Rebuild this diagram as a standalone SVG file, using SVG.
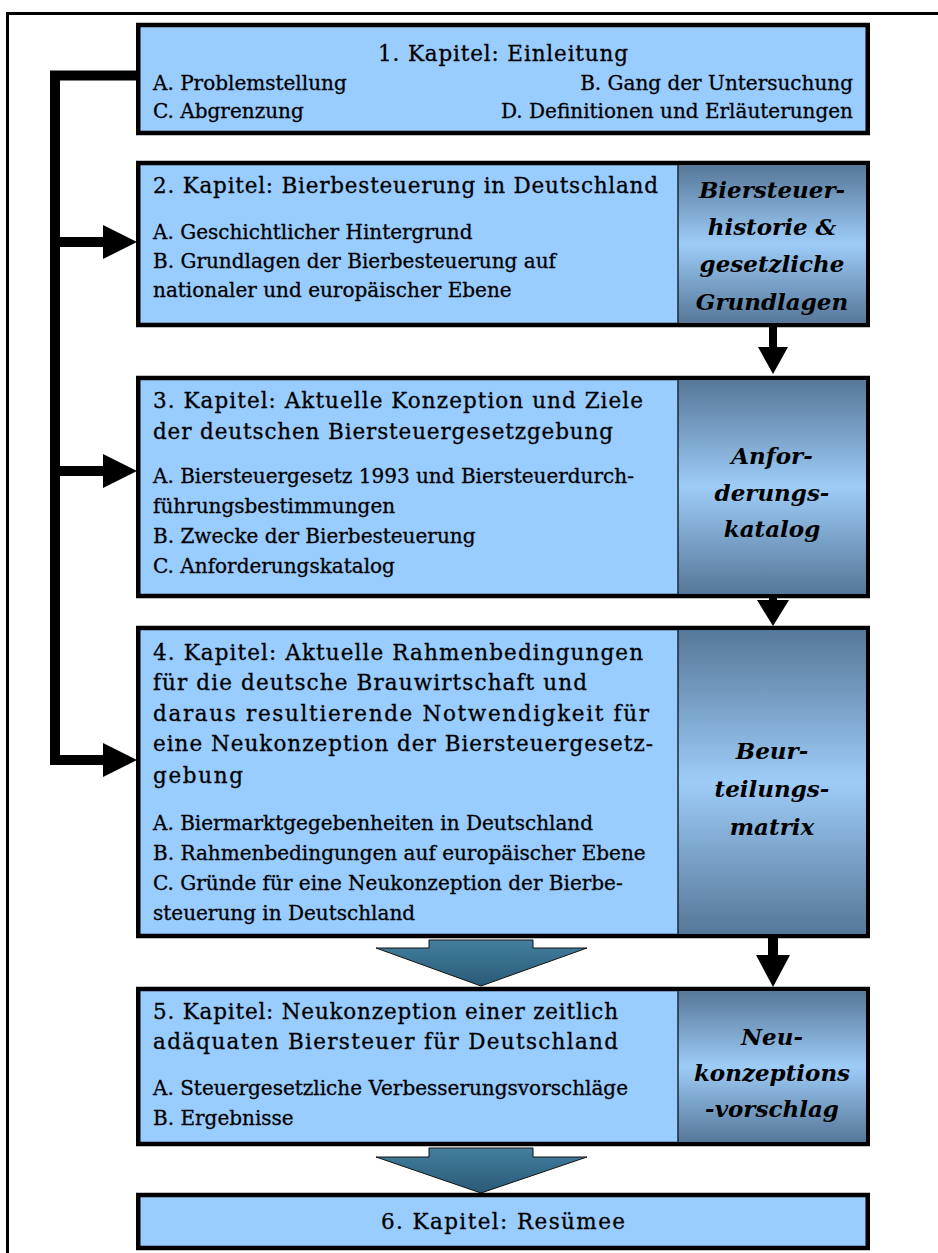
<svg xmlns="http://www.w3.org/2000/svg" width="938" height="1253" viewBox="0 0 938 1253">
  <defs>
    <linearGradient id="panelGrad" x1="0" y1="0" x2="0" y2="1">
      <stop offset="0" stop-color="#567799"/>
      <stop offset="0.5" stop-color="#9dccf7"/>
      <stop offset="1" stop-color="#567799"/>
    </linearGradient>
    <linearGradient id="flowGrad" x1="0" y1="0" x2="0" y2="1">
      <stop offset="0" stop-color="#437f9f"/>
      <stop offset="1" stop-color="#2a5a77"/>
    </linearGradient>
    <style>
      .box { fill: #99ccff; stroke: #000; stroke-width: 4.5; }
      .panel { fill: url(#panelGrad); }
      .divider { stroke: #1a2a3a; stroke-width: 1.5; }
      .txt { font-family: "DejaVu Serif", "Liberation Serif", serif; font-size: 20px; fill: #000; stroke: #000; stroke-width: 0.3; }
      .ttl { font-size: 21.5px; }
      .side { font-family: "DejaVu Serif", "Liberation Serif", serif; font-size: 23px; font-weight: bold; font-style: italic; fill: #000; text-anchor: middle; }
      .mid { text-anchor: middle; }
      .end { text-anchor: end; }
      .line { fill: none; stroke: #000; stroke-width: 10; }
      .head { fill: #000; }
      .flow { fill: url(#flowGrad); stroke: #111; stroke-width: 1; }
    </style>
  </defs>
  <rect width="938" height="1253" fill="#fff"/>

  <!-- page frame -->
  <path d="M7.5,1260 V13.5 H945" fill="none" stroke="#000" stroke-width="3"/>

  <!-- connectors -->
  <g id="connectors">
    <!-- left bracket from chapter 1 feeding chapters 2-4 -->
    <path class="line" d="M138,75.5 H55 V765"/>
    <path class="line" d="M55,242 H106"/>
    <polygon class="head" points="103,225 137,242 103,259"/>
    <path class="line" d="M55,471 H106"/>
    <polygon class="head" points="103,454 137,471 103,488"/>
    <path class="line" d="M55,760 H106"/>
    <polygon class="head" points="103,743 137,760 103,777"/>

    <!-- right column arrows -->
    <rect class="head" x="769" y="327" width="8" height="22"/>
    <polygon class="head" points="758,347 788,347 773,374"/>
    <rect class="head" x="769" y="597" width="8" height="6"/>
    <polygon class="head" points="757,600 789,600 773,626"/>
    <rect class="head" x="768" y="938" width="10" height="20"/>
    <polygon class="head" points="756,955 790,955 773,987"/>

    <!-- broad flow arrows -->
    <polygon class="flow" points="429,940 533,940 533,948 587,948 481,986 376,948 429,948"/>
    <polygon class="flow" points="429,1148 533,1148 533,1157 587,1157 481,1193 376,1157 429,1157"/>
  </g>

  <!-- Chapter 1 -->
  <g id="kapitel1">
    <rect class="box" x="138.25" y="25" width="729.5" height="108"/>
    <text class="txt ttl mid" x="503" y="61" textLength="250" lengthAdjust="spacing">1. Kapitel: Einleitung</text>
    <text class="txt" x="153" y="90">A. Problemstellung</text>
    <text class="txt end" x="853" y="90">B. Gang der Untersuchung</text>
    <text class="txt" x="153" y="118">C. Abgrenzung</text>
    <text class="txt end" x="853" y="118">D. Definitionen und Erläuterungen</text>
  </g>

  <!-- Chapter 2 -->
  <g id="kapitel2">
    <rect class="box" x="138.25" y="163" width="729.5" height="162"/>
    <rect class="panel" x="678" y="165" width="188" height="158"/>
    <line class="divider" x1="678" y1="165" x2="678" y2="323"/>
    <text class="txt ttl" x="153" y="193" textLength="505" lengthAdjust="spacing">2. Kapitel:  Bierbesteuerung in Deutschland</text>
    <text class="txt" x="153" y="239">A. Geschichtlicher Hintergrund</text>
    <text class="txt" x="153" y="268">B. Grundlagen der Bierbesteuerung auf</text>
    <text class="txt" x="153" y="297">nationaler und europäischer Ebene</text>
    <text class="side" x="772" y="198">Biersteuer-</text>
    <text class="side" x="772" y="235">historie &amp;</text>
    <text class="side" x="772" y="272">gesetzliche</text>
    <text class="side" x="772" y="310">Grundlagen</text>
  </g>

  <!-- Chapter 3 -->
  <g id="kapitel3">
    <rect class="box" x="138.25" y="378" width="729.5" height="218"/>
    <rect class="panel" x="678" y="380" width="188" height="214"/>
    <line class="divider" x1="678" y1="380" x2="678" y2="594"/>
    <text class="txt ttl" x="153" y="408" textLength="490" lengthAdjust="spacing">3. Kapitel:  Aktuelle Konzeption und Ziele</text>
    <text class="txt ttl" x="153" y="439" textLength="460" lengthAdjust="spacing">der deutschen Biersteuergesetzgebung</text>
    <text class="txt" x="153" y="483">A. Biersteuergesetz 1993 und Biersteuerdurch-</text>
    <text class="txt" x="153" y="513">führungsbestimmungen</text>
    <text class="txt" x="153" y="543">B. Zwecke der Bierbesteuerung</text>
    <text class="txt" x="153" y="573">C. Anforderungskatalog</text>
    <text class="side" x="772" y="464">Anfor-</text>
    <text class="side" x="772" y="501">derungs-</text>
    <text class="side" x="772" y="537">katalog</text>
  </g>

  <!-- Chapter 4 -->
  <g id="kapitel4">
    <rect class="box" x="138.25" y="628" width="729.5" height="308"/>
    <rect class="panel" x="678" y="630" width="188" height="304"/>
    <line class="divider" x1="678" y1="630" x2="678" y2="934"/>
    <text class="txt ttl" x="153" y="660" textLength="490" lengthAdjust="spacing">4. Kapitel:  Aktuelle Rahmenbedingungen</text>
    <text class="txt ttl" x="153" y="690" textLength="434" lengthAdjust="spacing">für die deutsche Brauwirtschaft und</text>
    <text class="txt ttl" x="153" y="721" textLength="496" lengthAdjust="spacing">daraus resultierende Notwendigkeit für</text>
    <text class="txt ttl" x="153" y="751" textLength="500" lengthAdjust="spacing">eine Neukonzeption der Biersteuergesetz-</text>
    <text class="txt ttl" x="153" y="783" textLength="90" lengthAdjust="spacing">gebung</text>
    <text class="txt" x="153" y="830">A. Biermarktgegebenheiten in Deutschland</text>
    <text class="txt" x="153" y="860">B. Rahmenbedingungen auf europäischer Ebene</text>
    <text class="txt" x="153" y="890">C. Gründe für eine Neukonzeption der Bierbe-</text>
    <text class="txt" x="153" y="920">steuerung in Deutschland</text>
    <text class="side" x="772" y="759">Beur-</text>
    <text class="side" x="772" y="797">teilungs-</text>
    <text class="side" x="772" y="835">matrix</text>
  </g>

  <!-- Chapter 5 -->
  <g id="kapitel5">
    <rect class="box" x="138.25" y="989" width="729.5" height="155"/>
    <rect class="panel" x="678" y="991" width="188" height="151"/>
    <line class="divider" x1="678" y1="991" x2="678" y2="1142"/>
    <text class="txt ttl" x="153" y="1019" textLength="465" lengthAdjust="spacing">5. Kapitel:  Neukonzeption einer zeitlich</text>
    <text class="txt ttl" x="153" y="1049" textLength="465" lengthAdjust="spacing">adäquaten Biersteuer für Deutschland</text>
    <text class="txt" x="153" y="1095">A. Steuergesetzliche Verbesserungsvorschläge</text>
    <text class="txt" x="153" y="1125">B. Ergebnisse</text>
    <text class="side" x="772" y="1045">Neu-</text>
    <text class="side" x="772" y="1081">konzeptions</text>
    <text class="side" x="772" y="1117">-vorschlag</text>
  </g>

  <!-- Chapter 6 -->
  <g id="kapitel6">
    <rect class="box" x="138.25" y="1195" width="729.5" height="53"/>
    <text class="txt ttl mid" x="503" y="1229" textLength="244" lengthAdjust="spacing">6. Kapitel: Resümee</text>
  </g>
</svg>
